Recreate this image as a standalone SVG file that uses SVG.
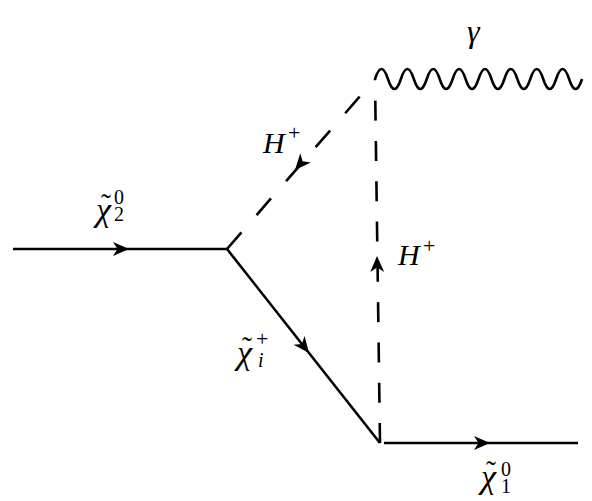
<svg xmlns="http://www.w3.org/2000/svg" width="592" height="501" viewBox="0 0 592 501">
<defs>
<path id="arr" d="M0,0 L-16,-7 L-11.5,0 L-16,7 Z" fill="#000"/>
</defs>
<g id="connectors" fill="none" stroke="#000" stroke-width="2.6">
<path id="e-in" d="M13,249 L227,249"/>
<path id="e-chi" d="M227,249 L380,443"/>
<path id="e-out" d="M384,443 L578,443"/>
<path id="e-hdiag" d="M227,249 L375,79" stroke-dasharray="22 23"/>
<path id="e-hvert" d="M380,443 L375,79" stroke-dasharray="20 20.3"/>
<path id="e-photon" d="M375,79 q6.47,-20 12.94,0 t12.94,0 t12.94,0 t12.94,0 t12.94,0 t12.94,0 t12.94,0 t12.94,0 t12.94,0 t12.94,0 t12.94,0 t12.94,0 t12.94,0 t12.94,0 t12.94,0 t12.94,0"/>
<use href="#arr" stroke="none" transform="translate(129,249)"/>
<use href="#arr" stroke="none" transform="translate(309,353) rotate(51.7)"/>
<use href="#arr" stroke="none" transform="translate(490,443)"/>
<use href="#arr" stroke="none" transform="translate(377,256) rotate(-90.8)"/>
<use href="#arr" stroke="none" transform="translate(295,170) rotate(131.2)"/>
</g>
<g id="label-gamma" font-family="Liberation Serif, DejaVu Serif, serif" fill="#000"><text x="467" y="42" font-size="32" font-style="italic">γ</text></g>
<g id="label-h1" font-family="Liberation Serif, DejaVu Serif, serif" fill="#000"><text x="263" y="153" font-size="30" font-style="italic">H</text><text x="288" y="140" font-size="22">+</text></g>
<g id="label-h2" font-family="Liberation Serif, DejaVu Serif, serif" fill="#000"><text x="398" y="265" font-size="30" font-style="italic">H</text><text x="423" y="253" font-size="22">+</text></g>
<g id="label-chi2" font-family="Liberation Serif, DejaVu Serif, serif" fill="#000"><text x="96" y="221" font-size="34" font-style="italic">χ</text><text x="101" y="214" font-size="30">˜</text><text x="114" y="204" font-size="20">0</text><text x="114" y="221" font-size="20">2</text></g>
<g id="label-chii" font-family="Liberation Serif, DejaVu Serif, serif" fill="#000"><text x="237" y="364" font-size="34" font-style="italic">χ</text><text x="242" y="357" font-size="30">˜</text><text x="256" y="346" font-size="22">+</text><text x="258" y="367" font-size="20" font-style="italic">i</text></g>
<g id="label-chi1" font-family="Liberation Serif, DejaVu Serif, serif" fill="#000"><text x="481" y="488" font-size="34" font-style="italic">χ</text><text x="486" y="481" font-size="30">˜</text><text x="501" y="476" font-size="20">0</text><text x="501" y="493" font-size="20">1</text></g>
</svg>
